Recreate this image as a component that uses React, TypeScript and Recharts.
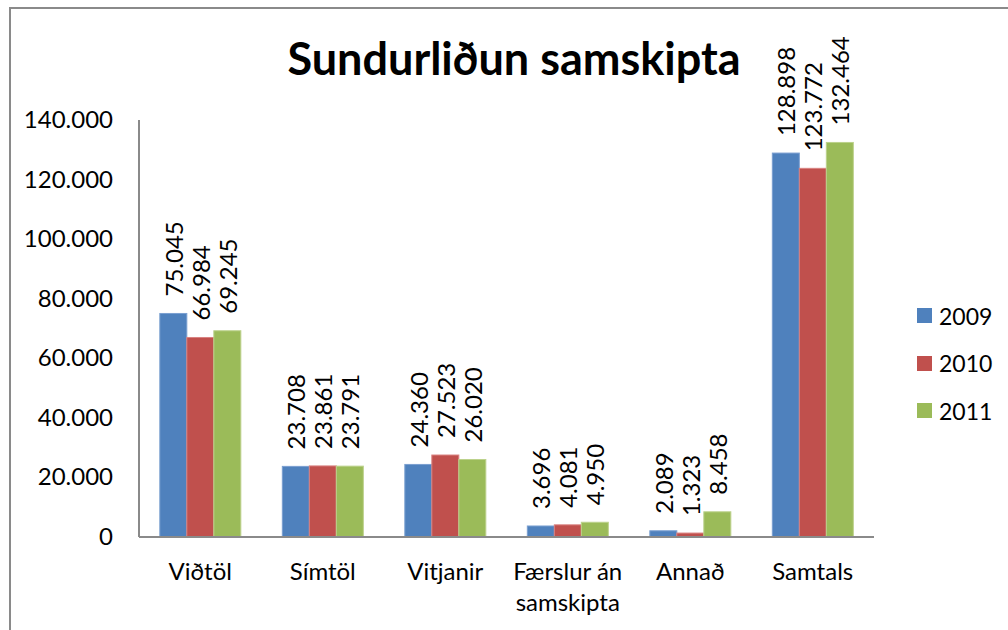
import { Bar, BarChart, XAxis, YAxis } from 'recharts';

const categories = ['Viðtöl', 'Símtöl', 'Vitjanir', 'Færslur án samskipta', 'Annað', 'Samtals'];
const values2009 = [75045, 23708, 24360, 3696, 2089, 128898];
const values2010 = [66984, 23861, 27523, 4081, 1323, 123772];
const values2011 = [69245, 23791, 26020, 4950, 8458, 132464];
const yTicks = [0, 20000, 40000, 60000, 80000, 100000, 120000, 140000];

const series = [
  { key: 'y2009', name: '2009', color: '#4f81bd', edge: '#7a9fd0' },
  { key: 'y2010', name: '2010', color: '#c0504d', edge: '#d98280' },
  { key: 'y2011', name: '2011', color: '#9bbb59', edge: '#bcd28c' },
];

const data = categories.map((name, i) => ({
  name,
  y2009: values2009[i],
  y2010: values2010[i],
  y2011: values2011[i],
}));

const FONT = 'Lato, "Open Sans", sans-serif';

// Icelandic style thousands separator: 75045 -> "75.045"
function fmt(n: number): string {
  if (n < 1000) return String(n);
  const rest = String(n % 1000).padStart(3, '0');
  return `${Math.floor(n / 1000)}.${rest}`;
}

function wrap(label: string): string[] {
  if (label.length <= 11) return [label];
  const words = label.split(' ');
  const lines: string[] = [];
  let cur = '';
  for (const w of words) {
    const next = cur ? `${cur} ${w}` : w;
    if (next.length > 11 && cur) {
      lines.push(cur);
      cur = w;
    } else {
      cur = next;
    }
  }
  if (cur) lines.push(cur);
  return lines;
}

function CategoryTick(props: any) {
  const { x, y, payload } = props;
  const lines = wrap(String(payload.value));
  return (
    <text x={x} y={y} textAnchor="middle" fontFamily={FONT} fontSize={24} fill="#000">
      {lines.map((ln, i) => (
        <tspan key={i} x={x} dy={i === 0 ? 35 : 31}>
          {ln}
        </tspan>
      ))}
    </text>
  );
}

function ValueTick(props: any) {
  const { y, payload } = props;
  return (
    <text x={113} y={y} dy={8} textAnchor="end" fontFamily={FONT} fontSize={24} fill="#000">
      {fmt(payload.value)}
    </text>
  );
}

function makeShape(color: string, edge: string, dataKey: string) {
  return (props: any) => {
    const { x, y, width, height, payload } = props;
    const h = Math.max(0, height ?? 0);
    const cx = x + width / 2;
    const ty = y - 17;
    return (
      <g>
        <rect x={x} y={y} width={width} height={h} fill={color} stroke={edge} strokeWidth={1} />
        <text
          x={cx}
          y={ty}
          transform={`rotate(-90 ${cx} ${ty})`}
          textAnchor="start"
          dominantBaseline="central"
          fontFamily={FONT}
          fontSize={24}
          fill="#000"
        >
          {fmt(payload[dataKey])}
        </text>
      </g>
    );
  };
}

export default function App() {
  return (
    <div style={{ position: 'absolute', left: 0, top: 0, width: 1008, height: 630, background: '#fff', overflow: 'hidden' }}>
      <div
        style={{
          position: 'absolute',
          left: 9,
          top: 7,
          width: 1100,
          height: 700,
          borderLeft: '2px solid #8a8a8a',
          borderTop: '2px solid #8a8a8a',
        }}
      />
      <div style={{ position: 'absolute', left: 0, top: 0 }}>
        <BarChart
          width={1008}
          height={630}
          data={data}
          margin={{ top: 120, right: 134, bottom: 0, left: 0 }}
          barCategoryGap="17%"
          barGap={0}
        >
          <text
            x={514}
            y={75}
            textAnchor="middle"
            fontFamily={FONT}
            fontWeight="bold"
            fontSize={45}
            fill="#000"
          >
            Sundurliðun samskipta
          </text>
          <YAxis
            width={139}
            domain={[0, 140000]}
            ticks={yTicks}
            interval={0}
            tickLine={false}
            axisLine={{ stroke: '#8a8a8a', strokeWidth: 2 }}
            tick={<ValueTick />}
          />
          <XAxis
            dataKey="name"
            interval={0}
            tickLine={false}
            height={93}
            axisLine={{ stroke: '#8a8a8a', strokeWidth: 2 }}
            tick={<CategoryTick />}
          />
          {series.map((s) => (
            <Bar
              key={s.key}
              dataKey={s.key}
              name={s.name}
              fill={s.color}
              isAnimationActive={false}
              shape={makeShape(s.color, s.edge, s.key)}
            />
          ))}
        </BarChart>
      </div>
      <div style={{ position: 'absolute', left: 917, top: 292, fontFamily: FONT, fontSize: 23 }}>
        {series.map((s) => (
          <div key={s.key} style={{ display: 'flex', alignItems: 'center', height: 47.5 }}>
            <span style={{ width: 15, height: 15, background: s.color, display: 'inline-block', marginRight: 7 }} />
            <span>{s.name}</span>
          </div>
        ))}
      </div>
    </div>
  );
}
